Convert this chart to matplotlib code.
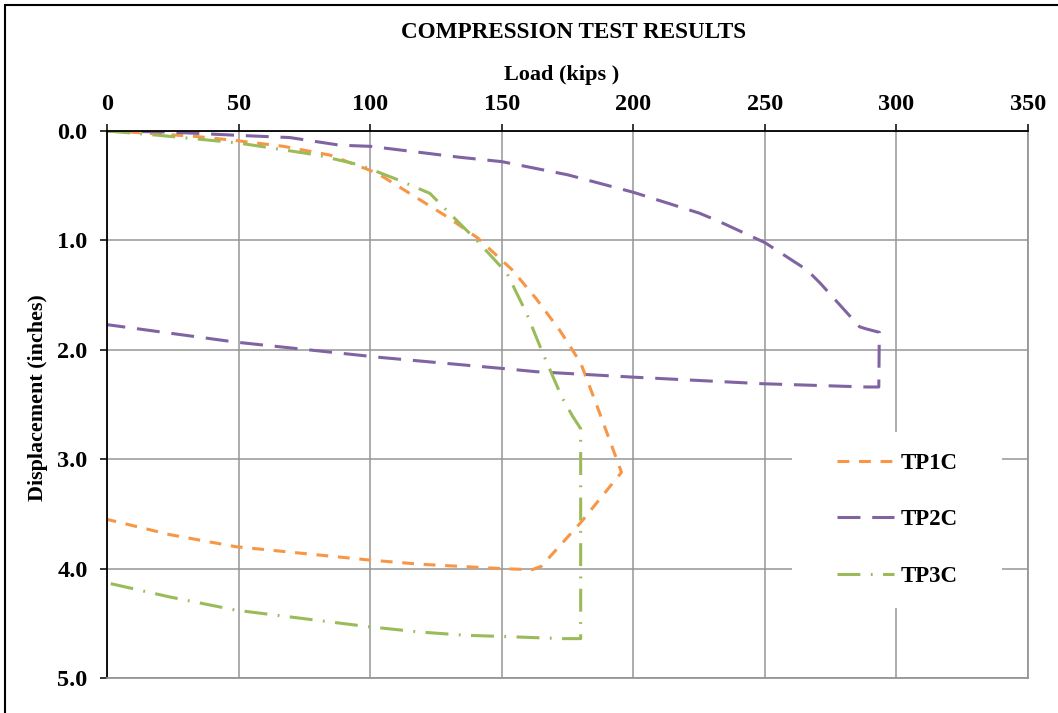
import matplotlib
matplotlib.use('Agg')
import matplotlib.pyplot as plt
from matplotlib.patches import Rectangle
from matplotlib.ticker import FormatStrFormatter

plt.rcParams['font.family'] = 'Liberation Serif'
plt.rcParams['font.weight'] = 'bold'
plt.rcParams['lines.scale_dashes'] = False

# load (kips) / displacement (inches)
tp1c_load = [0, 8.7, 34, 50, 67, 84.7, 100, 105, 119, 129, 141, 154, 163, 172, 180,
             186, 192, 195.5, 180, 165, 161.5, 150, 119, 99, 49, 24, 0]
tp1c_disp = [0, 0.01, 0.05, 0.09, 0.14, 0.22, 0.36, 0.42, 0.63, 0.78, 0.98, 1.27, 1.53,
             1.82, 2.12, 2.50, 2.89, 3.12, 3.58, 3.98, 4.01, 4.00, 3.96, 3.92, 3.80, 3.69, 3.55]

tp2c_load = [0, 24, 50, 69.5, 88.5, 100, 134, 150, 175, 200, 225, 232, 250, 266, 271,
             286, 288.7, 293.5, 293.3, 288.7, 249, 200, 163, 150, 104, 49, 0]
tp2c_disp = [0, 0.01, 0.04, 0.06, 0.13, 0.14, 0.24, 0.28, 0.40, 0.56, 0.75, 0.82, 1.02,
             1.27, 1.39, 1.79, 1.81, 1.84, 2.34, 2.34, 2.31, 2.25, 2.20, 2.17, 2.07, 1.93, 1.77]

tp3c_load = [0, 20, 50, 61, 80, 96, 111, 122.7, 127.6, 140.5, 152, 159.5, 165.6, 172.8,
             177, 180, 180, 173, 150, 136.7, 119, 99, 49, 24, 0]
tp3c_disp = [0, 0.04, 0.11, 0.15, 0.22, 0.31, 0.45, 0.57, 0.69, 1.0, 1.30, 1.67, 2.03,
             2.43, 2.61, 2.72, 4.64, 4.64, 4.62, 4.61, 4.58, 4.53, 4.38, 4.26, 4.13]

x_ticks = [0, 50, 100, 150, 200, 250, 300, 350]
y_ticks = [0.0, 1.0, 2.0, 3.0, 4.0, 5.0]

grid_col = '#969696'

fig = plt.figure(figsize=(10.58, 7.13), dpi=100)
ax = fig.add_axes([107/1058, 1 - 678/713, 921/1058, 547/713])

ax.plot(tp1c_load, tp1c_disp, color='#F79646', lw=2.2, dashes=(8.5, 7), label='TP1C')
ax.plot(tp2c_load, tp2c_disp, color='#8064A2', lw=2.2, dashes=(16.5, 8.5), label='TP2C')
ax.plot(tp3c_load, tp3c_disp, color='#9BBB59', lw=2.2, dashes=(16.5, 7.5, 1.3, 7.5), label='TP3C')

ax.set_xlim(0, 350)
ax.set_ylim(5, 0)
ax.set_xticks(x_ticks)
ax.set_yticks(y_ticks)
ax.yaxis.set_major_formatter(FormatStrFormatter('%.1f'))
ax.xaxis.tick_top()
ax.xaxis.set_label_position('top')
ax.tick_params(axis='both', direction='out', length=5, width=1.1, color='black',
               labelsize=17.5)
ax.tick_params(axis='x', pad=6.5)
ax.tick_params(axis='y', pad=9)

ax.grid(True, color=grid_col, lw=1.1)
ax.set_axisbelow(True)
for side in ['top', 'left']:
    ax.spines[side].set_color('black')
    ax.spines[side].set_linewidth(1.3)
for side in ['bottom', 'right']:
    ax.spines[side].set_color(grid_col)
    ax.spines[side].set_linewidth(1.3)

ax.set_xlabel('Load (kips )', fontsize=16, fontweight='bold')
ax.xaxis.set_label_coords(455/921, 1 + 51/547)
ax.set_ylabel('Displacement (inches)', fontsize=15.8, fontweight='bold')
ax.yaxis.set_label_coords(-59/921, 0.513)

fig.text(574/1058, 1 - 32/713, 'COMPRESSION TEST RESULTS', ha='center', va='center',
         fontsize=16.7, fontweight='bold')

# white patch behind the legend (it hides the grid there)
ax.add_patch(Rectangle((685/921, 70/547), 210/921, 176/547, transform=ax.transAxes,
                       facecolor='white', edgecolor='none', zorder=1.5))
ax.legend(loc='center', bbox_to_anchor=(0.858, 0.289), frameon=False, fontsize=16.5,
          handlelength=2.5, handletextpad=0.3, labelspacing=1.55)

# outer chart border
fig.patches.append(Rectangle((5/1058, -0.1), 1.2, 1.1 - 5/713, transform=fig.transFigure,
                             fill=False, edgecolor='black', lw=1.5))

plt.savefig('out.png', dpi=100)
